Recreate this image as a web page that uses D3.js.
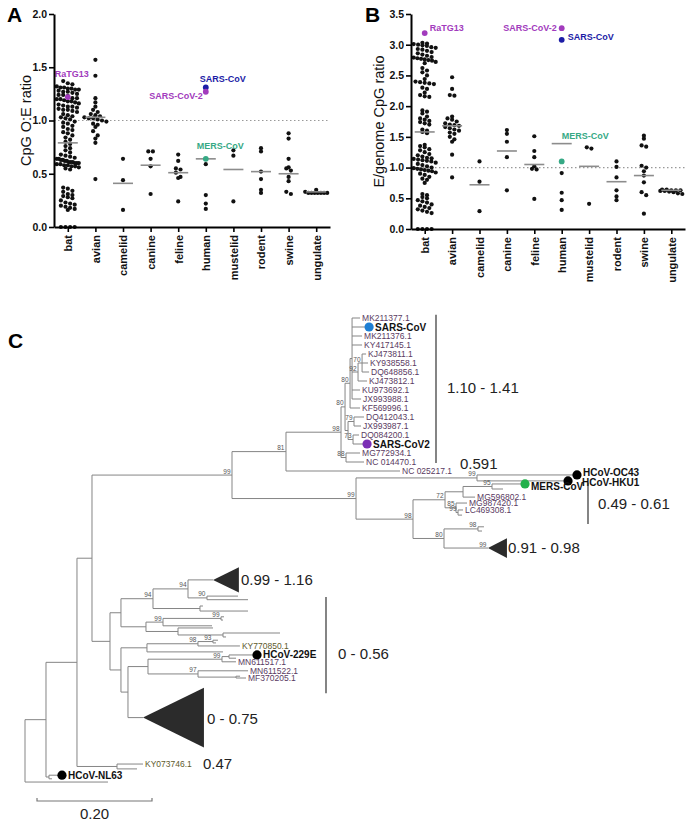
<!DOCTYPE html>
<html>
<head>
<meta charset="utf-8">
<script src="https://cdn.jsdelivr.net/npm/d3@7"></script>
<style>
body { margin: 0; background: #fff; }
text { font-family: "Liberation Sans", Arial, sans-serif; }
</style>
</head>
<body>
<svg id="fig" width="700" height="826"></svg>
<script>
// host categories (panels A and B)
const hosts = ["bat", "avian", "camelid", "canine", "feline", "human", "mustelid", "rodent", "swine", "ungulate"];

// CpG O:E ratio per host (panel A), same order as hosts
const oeValues = [
    [1.37, 1.35, 1.34, 1.32, 1.31, 1.31, 1.30, 1.30, 1.29, 1.29, 1.28, 1.27, 1.27, 1.26, 1.25, 1.24, 1.24, 1.23, 1.21, 1.21,
     1.20, 1.20, 1.19, 1.18, 1.18, 1.17, 1.16, 1.15, 1.14, 1.13, 1.13, 1.12, 1.11, 1.10, 1.10, 1.09, 1.08,
     1.06, 1.05, 1.04, 1.03, 1.02, 1.01, 0.99, 0.98, 0.97, 0.95, 0.94, 0.92, 0.91, 0.89, 0.88, 0.86,
     0.84, 0.82, 0.80, 0.78, 0.76, 0.74, 0.72,
     0.70, 0.68, 0.67, 0.66, 0.65, 0.64, 0.64, 0.63, 0.63, 0.62, 0.62, 0.61, 0.61, 0.61, 0.60, 0.60, 0.60, 0.59, 0.59,
     0.58, 0.58, 0.57, 0.57, 0.56, 0.55, 0.54,
     0.37, 0.36, 0.34, 0.33, 0.31, 0.30, 0.29, 0.28, 0.27, 0.25, 0.23, 0.22, 0.21, 0.20, 0.19, 0.18, 0.17, 0.16,
     0, 0, 0, 0],
    [1.57, 1.42, 1.21, 1.17, 1.13, 1.10, 1.08, 1.06, 1.05, 1.04, 1.03, 1.02, 1.02, 1.01, 1.00, 0.99, 0.97, 0.96, 0.94,
     0.90, 0.86, 0.83, 0.79, 0.45],
    [0.64, 0.44, 0.16],
    [0.71, 0.71, 0.64, 0.57, 0.31],
    [0.68, 0.62, 0.55, 0.54, 0.51, 0.47, 0.46, 0.24],
    [0.59, 0.30, 0.22, 0.17],
    [0.72, 0.67, 0.24],
    [0.74, 0.71, 0.52, 0.45, 0.35, 0.32],
    [0.88, 0.83, 0.64, 0.56, 0.55, 0.53, 0.47, 0.43, 0.33, 0.31],
    [0.35, 0.33, 0.32, 0.32, 0.32, 0.32, 0.32, 0.32, 0.32]
];
const oeMedians = [0.79, 1.03, 0.41, 0.58, 0.51, 0.64, 0.54, 0.52, 0.50, 0.33];

// E / genome CpG ratio per host (panel B)
const egValues = [
    [3.03, 3.02, 3.01, 3.00, 2.99, 2.98, 2.96, 2.95, 2.93, 2.92, 2.90, 2.88, 2.86, 2.84, 2.82, 2.80, 2.79, 2.78, 2.77,
     2.76, 2.75, 2.74, 2.72, 2.70,
     2.62, 2.58, 2.55, 2.50, 2.44, 2.40, 2.39, 2.38, 2.37, 2.36, 2.30, 2.28, 2.22, 2.18, 2.16, 2.15,
     1.93, 1.91, 1.88, 1.83, 1.80, 1.78, 1.76, 1.74, 1.72, 1.70, 1.62, 1.60, 1.58, 1.56,
     1.37, 1.35, 1.33, 1.30, 1.28, 1.25, 1.22, 1.20, 1.18, 1.16, 1.15, 1.14, 1.13, 1.12, 1.11, 1.10, 1.08, 1.06, 1.04,
     1.02, 1.00, 0.99, 0.98, 0.97, 0.96, 0.95, 0.94, 0.92, 0.90, 0.88, 0.85, 0.82, 0.80, 0.75,
     0.57, 0.55, 0.52, 0.50, 0.47, 0.45, 0.43, 0.40, 0.38, 0.36, 0.34, 0.32, 0.30, 0.28, 0.26,
     0, 0, 0, 0],
    [2.47, 2.28, 2.18, 2.17, 1.83, 1.80, 1.78, 1.75, 1.72, 1.70, 1.69, 1.68, 1.66, 1.64, 1.62, 1.60, 1.57, 1.55, 1.50,
     1.46, 1.42, 1.21, 0.84],
    [1.10, 0.77, 0.29],
    [1.61, 1.55, 1.42, 1.17, 0.63],
    [1.51, 1.27, 1.17, 1.02, 0.98, 0.97, 0.49],
    [0.91, 0.59, 0.47, 0.31],
    [1.33, 1.31, 0.41],
    [1.10, 1.01, 0.84, 0.63, 0.53, 0.47],
    [1.52, 1.47, 1.36, 1.34, 1.03, 1.00, 0.94, 0.87, 0.76, 0.60, 0.55, 0.25],
    [0.64, 0.64, 0.63, 0.63, 0.63, 0.62, 0.62, 0.61, 0.60, 0.58, 0.57]
];
const egMedians = [1.58, 1.68, 0.72, 1.27, 1.05, 1.39, 1.02, 0.77, 0.87, 0.63];

// named viruses: [name, host, value, colour]
const oeHighlights = [
    ["RaTG13", "bat", 1.22, "#a23bbd"],
    ["SARS-CoV", "human", 1.31, "#1c1ca6"],
    ["SARS-CoV-2", "human", 1.27, "#a23bbd"],
    ["MERS-CoV", "human", 0.64, "#36a985"]
];
const egHighlights = [
    ["RaTG13", "bat", 3.19, "#a23bbd"],
    ["SARS-CoV-2", "human", 3.27, "#a23bbd"],
    ["SARS-CoV", "human", 3.08, "#1c1ca6"],
    ["MERS-CoV", "human", 1.10, "#36a985"]
];

// phylogeny: [id, parent, branch length, bootstrap, leaf row]
const treeNodes = [
    ["root", null, 0],
    ["nA", "root", 0.0365],
    ["nB", "nA", 0.0539],
    ["nC", "nB", 0.0261],
    ["beta", "nC", 0.2435, 99],
    ["sarbe", "beta", 0.0939, 81],
    ["s98", "sarbe", 0.0957, 98],
    ["S80a", "s98", 0.0070, 80],
    ["S80b", "S80a", 0.0087, 80],
    ["Scomb", "S80b", 0.0035],
    ["MK211377.1", "Scomb", 0.0139, null, 0],
    ["SARS-CoV", "Scomb", 0.0209, null, 1],
    ["MK211376.1", "Scomb", 0.0174, null, 2],
    ["KY417145.1", "Scomb", 0.0174, null, 3],
    ["S92", "Scomb", 0.0104, 92],
    ["S70", "S92", 0.0070, 70],
    ["KJ473811.1", "S70", 0.0070, null, 4],
    ["KY938558.1", "S70", 0.0104, null, 5],
    ["DQ648856.1", "S70", 0.0122, null, 6],
    ["KJ473812.1", "S92", 0.0157, null, 7],
    ["KU973692.1", "Scomb", 0.0139, null, 8],
    ["JX993988.1", "Scomb", 0.0157, null, 9],
    ["KF569996.1", "S80b", 0.0174, null, 10],
    ["S7x", "S80a", 0.0052],
    ["S79", "S7x", 0.0104, 79],
    ["DQ412043.1", "S79", 0.0174, null, 11],
    ["JX993987.1", "S79", 0.0122, null, 12],
    ["S73", "S7x", 0.0087, 73],
    ["DQ084200.1", "S73", 0.0104, null, 13],
    ["SARS-CoV2", "S73", 0.0157, null, 14],
    ["S88", "s98", 0.0087, 88],
    ["MG772934.1", "S88", 0.0244, null, 15],
    ["NC 014470.1", "S88", 0.0313, null, 16],
    ["NC 025217.1", "sarbe", 0.1983, null, 17],
    ["merbe", "beta", 0.2157, 99],
    ["emb", "merbe", 0.2104, 99],
    ["HCoV-OC43", "emb", 0.1652, null, 17.44],
    ["HCoV-HKU1", "emb", 0.1496, null, 18.1],
    ["M98", "merbe", 0.0991, 98],
    ["M72", "M98", 0.0557, 72],
    ["M95p", "M72", 0.0313],
    ["M95", "M95p", 0.0504, 95],
    ["MERS-CoV", "M95", 0.0487, null, 18.44],
    ["u1", "M95", 0.0191, null, 19.0],
    ["MG596802.1", "M95p", 0.0209, null, 19.9],
    ["M85", "M72", 0.0191, 85],
    ["MG987420.1", "M85", 0.0191, null, 20.56],
    ["M99c", "M85", 0.0035, 99],
    ["LC469308.1", "M99c", 0.0087, null, 21.33],
    ["u2", "M99c", 0.0070, null, 21.9],
    ["M80", "M98", 0.0539, 80],
    ["M98b", "M80", 0.0591, 98],
    ["u3", "M98b", 0.0104, null, 23.2],
    ["u4", "M98b", 0.0070, null, 23.67],
    ["c1", "M80", 0.0765, 99, 25.56],
    ["nAl", "nC", 0.0313],
    ["nA1", "nAl", 0.0191],
    ["n94a", "nA1", 0.0557, 94],
    ["n94b", "n94a", 0.0609, 94],
    ["c2", "n94b", 0.0435, null, 29.1],
    ["n90", "n94b", 0.0330, 90],
    ["u5", "n90", 0.0539, null, 30.9],
    ["u6", "n90", 0.0713, null, 31.3],
    ["n200", "n94a", 0.0817],
    ["u7", "n200", 0.0052, null, 32],
    ["u8", "n200", 0.0835, null, 32.56],
    ["n146", "nA1", 0.0435],
    ["n163", "n146", 0.0296, 99],
    ["n221", "n163", 0.1009, 99],
    ["u9", "n221", 0.0052, null, 33.2],
    ["u10", "n221", 0.0035, null, 33.56],
    ["u11", "n163", 0.0852, null, 34.2],
    ["n178", "n146", 0.0557],
    ["u12", "n178", 0.0609, null, 34.44],
    ["n223", "n178", 0.0783],
    ["u13", "n223", 0.0991, null, 35],
    ["u14", "n223", 0.0052, null, 35.44],
    ["nA2", "nAl", 0.0191],
    ["nKY", "nA2", 0.0452],
    ["n198", "nKY", 0.0887, 98],
    ["n213", "n198", 0.0261, 93],
    ["u15", "n213", 0.0087, null, 35.8],
    ["u16", "n213", 0.0052, null, 36.1],
    ["KY770850.1", "n198", 0.0730, null, 36.44],
    ["u17", "nKY", 0.1322, null, 37.1],
    ["n128", "nA2", 0.0122],
    ["n148", "n128", 0.0348],
    ["n222", "n148", 0.1287, 99],
    ["n229", "n222", 0.0122],
    ["HCoV-229E", "n229", 0.0400, null, 37.44],
    ["u18", "n229", 0.0122, null, 37.8],
    ["MN611517.1", "n222", 0.0243, null, 38.2],
    ["n97", "n148", 0.0870, 97],
    ["MN611522.1", "n97", 0.0870, null, 39.2],
    ["n236", "n97", 0.0661],
    ["u19", "n236", 0.0070, null, 39.8],
    ["MF370205.1", "n236", 0.0174, null, 40],
    ["c3", "n128", 0.0261, null, 44.4],
    ["nKY07", "nB", 0.0696],
    ["KY073746.1", "nKY07", 0.0452, null, 49.56],
    ["u20", "nKY07", 0.0348, null, 50.1],
    ["nNL", "nA", 0.0052],
    ["HCoV-NL63", "nNL", 0.0139, null, 50.8],
    ["u21", "nNL", 0.0052, null, 51.2],
    ["u22", "root", 0.1443, null, 51.56]
];

// collapsed clades: [id, depth, half height in rows]
const collapsedClades = [["c1", 0.033, 1.1], ["c2", 0.045, 1.4], ["c3", 0.106, 3.33]];

// named strains in the tree: [id, dot colour]
const namedStrains = [
    ["SARS-CoV", "#1e7fd4"], ["SARS-CoV2", "#7b2fb5"], ["MERS-CoV", "#22b04b"],
    ["HCoV-OC43", "#000"], ["HCoV-HKU1", "#000"], ["HCoV-229E", "#000"], ["HCoV-NL63", "#000"]
];

// CpG O:E ranges written next to clades
const cladeRangeText = ["1.10 - 1.41", "0.591", "0.49 - 0.61", "0.91 - 0.98", "0.99 - 1.16", "0 - 0.56", "0 - 0.75", "0.47"];

const svg = d3.select("#fig");

// ---------- panels A and B ----------
function swarm(vals, cx, y) {
    const binPx = 4.6, maxW = 22;
    const sorted = vals.slice().sort((a, b) => b - a);
    const bins = d3.group(sorted, v => Math.round(y(v) / binPx));
    const out = [];
    for (const [, arr] of bins) {
        const n = arr.length;
        const sp = n > 1 ? Math.min(4.6, maxW / (n - 1)) : 0;
        arr.forEach((v, i) => out.push({ x: cx + (i - (n - 1) / 2) * sp, y: y(v) }));
    }
    return out;
}

function drawPanel(opt) {
    const g = svg.append("g");
    const x = d3.scalePoint().domain(hosts).range(opt.xRange).padding(0.5);
    const y = d3.scaleLinear().domain([0, opt.yMax]).range(opt.yRange);

    // reference line at 1.0
    g.append("line")
        .attr("x1", opt.xRange[0]).attr("x2", opt.xRange[1])
        .attr("y1", y(1)).attr("y2", y(1))
        .attr("stroke", "#999").attr("stroke-width", 1.2)
        .attr("stroke-dasharray", "1.5,2.5");

    opt.values.forEach((vals, i) => {
        const pts = swarm(vals, x(hosts[i]), y);
        g.selectAll(null).data(pts).enter().append("circle")
            .attr("cx", d => d.x).attr("cy", d => d.y).attr("r", 2.1)
            .attr("fill", "#111");
        g.append("line")
            .attr("x1", x(hosts[i]) - 10).attr("x2", x(hosts[i]) + 10)
            .attr("y1", y(opt.medians[i])).attr("y2", y(opt.medians[i]))
            .attr("stroke", "#8c8c8c").attr("stroke-width", 1.6);
    });

    opt.highlights.forEach(h => {
        const hx = x(h[1]), hy = y(h[2]);
        const lay = opt.labelLayout[h[0]];
        g.append("circle").attr("cx", hx).attr("cy", hy).attr("r", 2.9).attr("fill", h[3]);
        g.append("text")
            .attr("x", hx + lay[0]).attr("y", hy + lay[1])
            .attr("text-anchor", lay[2])
            .attr("font-size", "9px").attr("font-weight", "bold")
            .attr("fill", h[3])
            .text(h[0]);
    });

    const yAxis = g.append("g")
        .attr("transform", "translate(" + opt.xRange[0] + ",0)")
        .call(d3.axisLeft(y).tickValues(d3.range(0, opt.yMax + 0.01, 0.5)).tickFormat(d3.format(".1f")).tickSize(5).tickSizeOuter(0));
    const xAxis = g.append("g")
        .attr("transform", "translate(0," + opt.yRange[0] + ")")
        .call(d3.axisBottom(x).tickSize(5).tickSizeOuter(0));
    [yAxis, xAxis].forEach(a => {
        a.select(".domain").attr("stroke", "#000").attr("stroke-width", 2);
        a.selectAll(".tick line").attr("stroke", "#000").attr("stroke-width", 1.6);
        a.selectAll("text").attr("font-family", "'Liberation Sans', Arial, sans-serif")
            .attr("font-weight", "bold").attr("fill", "#111");
    });
    yAxis.selectAll("text").attr("font-size", "10.5px").attr("x", -7);
    xAxis.selectAll("text")
        .attr("font-size", "11px")
        .attr("transform", "rotate(-90)")
        .attr("text-anchor", "end")
        .attr("x", -8).attr("y", 0).attr("dy", "0.35em");

    g.append("text")
        .attr("transform", "translate(" + opt.titleX + "," + ((opt.yRange[0] + opt.yRange[1]) / 2) + ") rotate(-90)")
        .attr("text-anchor", "middle")
        .attr("font-size", "14.5px").attr("fill", "#111")
        .text(opt.title);
    g.append("text")
        .attr("x", opt.letterX).attr("y", 22)
        .attr("font-size", "21px").attr("font-weight", "bold")
        .text(opt.letter);
}

drawPanel({
    letter: "A", letterX: 7, title: "CpG O:E ratio", titleX: 31,
    xRange: [54, 330], yRange: [227, 14], yMax: 2.0,
    values: oeValues, medians: oeMedians, highlights: oeHighlights,
    labelLayout: {
        "RaTG13": [-13, -20, "start"], "SARS-CoV": [-6, -5, "start"],
        "SARS-CoV-2": [-3, 7, "end"], "MERS-CoV": [-9, -10, "start"]
    }
});
drawPanel({
    letter: "B", letterX: 365, title: "E/genome CpG ratio", titleX: 384,
    xRange: [411, 685], yRange: [229, 14], yMax: 3.5,
    values: egValues, medians: egMedians, highlights: egHighlights,
    labelLayout: {
        "RaTG13": [5, -2, "start"], "SARS-CoV-2": [-5, 3, "end"],
        "SARS-CoV": [6, 0, "start"], "MERS-CoV": [0, -22, "start"]
    }
});

// ---------- panel C: phylogeny ----------
const tg = svg.append("g");
tg.append("text").attr("x", 8).attr("y", 348)
    .attr("font-size", "21px").attr("font-weight", "bold").text("C");

const root = d3.stratify().id(d => d[0]).parentId(d => d[1])(treeNodes);
root.eachBefore(n => { n.dist = n.parent ? n.parent.dist + n.data[2] : 0; });
root.eachAfter(n => {
    n.row = n.children ? (n.children[0].row + n.children[n.children.length - 1].row) / 2 : n.data[4];
});

const xT = d3.scaleLinear().domain([0, 1]).range([25, 600]);
const yT = d3.scaleLinear().domain([0, 1]).range([318, 327]);
const branchColor = "#858585";

// horizontal branches
tg.selectAll(null).data(root.descendants().filter(n => n.parent)).enter().append("line")
    .attr("x1", d => xT(d.parent.dist)).attr("x2", d => xT(d.dist))
    .attr("y1", d => yT(d.row)).attr("y2", d => yT(d.row))
    .attr("stroke", branchColor).attr("stroke-width", 1);
// vertical connectors
tg.selectAll(null).data(root.descendants().filter(n => n.children)).enter().append("line")
    .attr("x1", d => xT(d.dist)).attr("x2", d => xT(d.dist))
    .attr("y1", d => yT(d.children[0].row)).attr("y2", d => yT(d.children[d.children.length - 1].row))
    .attr("stroke", branchColor).attr("stroke-width", 1);

// collapsed clades
const nodeById = new Map(root.descendants().map(n => [n.id, n]));
collapsedClades.forEach(c => {
    const n = nodeById.get(c[0]);
    const ax = xT(n.dist), ay = yT(n.row);
    const bx = xT(n.dist + c[1]);
    tg.append("path")
        .attr("d", "M" + ax + "," + ay + "L" + bx + "," + yT(n.row - c[2]) + "L" + bx + "," + yT(n.row + c[2]) + "Z")
        .attr("fill", "#2b2b2b");
});

// bootstrap values
tg.selectAll(null).data(root.descendants().filter(n => n.data[3] != null)).enter().append("text")
    .attr("x", d => xT(d.dist) - 1.5).attr("y", d => yT(d.row) - 1.5)
    .attr("text-anchor", "end")
    .attr("font-size", "6.5px").attr("fill", "#555")
    .text(d => d.data[3]);

// leaf labels
const strainColor = new Map(namedStrains);
const labelShift = { "HCoV-OC43": [0, -2], "HCoV-HKU1": [8, 2], "MERS-CoV": [0, 3] };
root.leaves().forEach(n => {
    const id = n.id;
    if (/^(u|c)\d+$/.test(id)) return;
    const tx = xT(n.dist), ty = yT(n.row);
    if (strainColor.has(id)) {
        const sh = labelShift[id] || [0, 0];
        tg.append("line").attr("x1", tx).attr("x2", tx + 5).attr("y1", ty).attr("y2", ty)
            .attr("stroke", branchColor);
        tg.append("circle").attr("cx", tx + 5).attr("cy", ty).attr("r", 4.6).attr("fill", strainColor.get(id));
        tg.append("text")
            .attr("x", tx + 11 + sh[0]).attr("y", ty + 3.5 + sh[1])
            .attr("font-size", "10px").attr("font-weight", "bold").attr("fill", "#111")
            .text(id);
    } else {
        tg.append("text")
            .attr("x", tx + 2).attr("y", ty + 3)
            .attr("font-size", "8.5px")
            .attr("fill", /^KY07|^KY770/.test(id) ? "#5e5a2c" : "#5a3a62")
            .text(id);
    }
});

// clade bars and CpG ranges
const rangeLayout = [
    { bar: [436, -0.35, 16.1], at: [447, 7.8] },
    { at: [460, 16.2] },
    { bar: [588, 18.3, 22.9], at: [598, 20.7] },
    { at: [508, 25.6] },
    { at: [241, 29.1] },
    { bar: [326, 31.0, 41.7], at: [338, 37.3] },
    { at: [207, 44.6] },
    { at: [203, 49.6] }
];
cladeRangeText.forEach((t, i) => {
    const l = rangeLayout[i];
    if (l.bar) {
        tg.append("line")
            .attr("x1", l.bar[0]).attr("x2", l.bar[0])
            .attr("y1", yT(l.bar[1])).attr("y2", yT(l.bar[2]))
            .attr("stroke", "#333").attr("stroke-width", 1.2);
    }
    tg.append("text")
        .attr("x", l.at[0]).attr("y", yT(l.at[1]) + 5)
        .attr("font-size", "15px").attr("fill", "#222")
        .text(t);
});

// scale bar
const sb0 = 37, sbY = 801;
const sbLen = xT(0.2) - xT(0);
tg.append("path")
    .attr("d", "M" + sb0 + "," + (sbY - 3) + "V" + sbY + "H" + (sb0 + sbLen) + "V" + (sbY - 3))
    .attr("fill", "none").attr("stroke", "#777").attr("stroke-width", 1.2);
tg.append("text")
    .attr("x", sb0 + sbLen / 2).attr("y", sbY + 18)
    .attr("text-anchor", "middle").attr("font-size", "15px").attr("fill", "#222")
    .text("0.20");
</script>
</body>
</html>
